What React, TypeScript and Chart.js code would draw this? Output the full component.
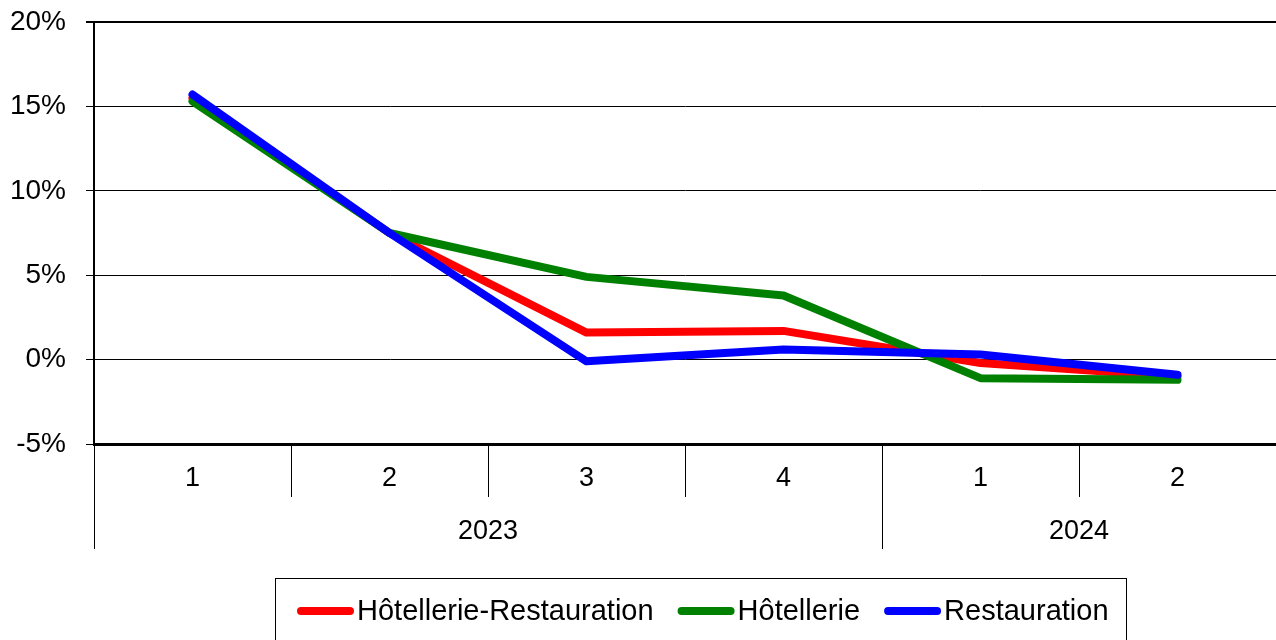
import React, { useEffect, useRef } from "react";
import { Chart, registerables } from "chart.js";

Chart.register(...registerables);

const quarters = ["1", "2", "3", "4", "1", "2"];
const years = ["2023", "2023", "2023", "2023", "2024", "2024"];
const hotelRestauration = [15.5, 7.5, 1.6, 1.7, -0.2, -1.0];
const hotellerie = [15.3, 7.5, 4.9, 3.8, -1.1, -1.2];
const restauration = [15.7, 7.5, -0.1, 0.6, 0.3, -0.9];
const seriesNames = ["Hôtellerie-Restauration", "Hôtellerie", "Restauration"];
const seriesColors = ["#FF0000", "#008000", "#0000FF"];
const yTicks = [-5, 0, 5, 10, 15, 20];

const FONT = "'Liberation Sans', Arial, sans-serif";

const axisPlugin = {
  id: "multiLevelAxisAndLegend",
  afterDraw(chart: any) {
    const ctx = chart.ctx;
    const xs = chart.scales.x;
    const area = chart.chartArea;
    const n = quarters.length;
    const w = xs.getPixelForValue(1) - xs.getPixelForValue(0);
    ctx.save();
    // separators
    ctx.strokeStyle = "#000";
    ctx.lineWidth = 1;
    for (let i = 0; i < n; i++) {
      const bx = Math.round(xs.getPixelForValue(i) - w / 2) + 0.5;
      const long = i === 0 || years[i] !== years[i - 1];
      ctx.beginPath();
      ctx.moveTo(bx, area.bottom);
      ctx.lineTo(bx, long ? 549 : 497);
      ctx.stroke();
    }
    // quarter labels
    ctx.fillStyle = "#000";
    ctx.font = "27px " + FONT;
    ctx.textAlign = "center";
    ctx.textBaseline = "middle";
    for (let i = 0; i < n; i++) {
      ctx.fillText(quarters[i], xs.getPixelForValue(i), 479);
    }
    // year labels
    let start = 0;
    for (let i = 1; i <= n; i++) {
      if (i === n || years[i] !== years[start]) {
        const cx = (xs.getPixelForValue(start) + xs.getPixelForValue(i - 1)) / 2;
        ctx.fillText(years[start], cx, 532);
        start = i;
      }
    }
    // legend
    ctx.lineWidth = 1;
    ctx.strokeRect(275.5, 578.5, 851, 80);
    ctx.font = "29px " + FONT;
    ctx.textAlign = "left";
    let lx = 297;
    const ly = 611;
    chart.data.datasets.forEach((ds: any) => {
      ctx.strokeStyle = ds.borderColor;
      ctx.lineWidth = 8;
      ctx.lineCap = "round";
      ctx.beginPath();
      ctx.moveTo(lx + 4, ly);
      ctx.lineTo(lx + 53, ly);
      ctx.stroke();
      ctx.fillStyle = "#000";
      ctx.fillText(ds.label, lx + 60, ly + 1);
      lx += 60 + ctx.measureText(ds.label).width + 24;
    });
    ctx.restore();
  },
};

export default function App() {
  const ref = useRef<HTMLCanvasElement | null>(null);
  useEffect(() => {
    if (!ref.current) return;
    const seriesData = [hotelRestauration, hotellerie, restauration];
    const chart = new Chart(ref.current, {
      type: "line",
      data: {
        labels: quarters.map((q, i) => years[i] + " T" + q),
        datasets: seriesData.map((d, i) => ({
          label: seriesNames[i],
          data: d,
          borderColor: seriesColors[i],
          backgroundColor: seriesColors[i],
          borderWidth: 8,
          pointRadius: 0,
          borderCapStyle: "round",
          borderJoinStyle: "round",
          tension: 0,
          order: 2 - i,
        })),
      },
      options: {
        responsive: false,
        animation: false,
        layout: { padding: { top: 22, left: 0, right: 0, bottom: 0 } },
        plugins: { legend: { display: false }, tooltip: { enabled: false } },
        scales: {
          x: {
            type: "category",
            offset: true,
            grid: { display: false },
            border: { display: true, color: "#000", width: 3 },
            ticks: { display: false },
            afterFit: (s: any) => {
              s.height = 196;
              s.paddingLeft = 0;
              s.paddingRight = 0;
            },
          },
          y: {
            min: -5,
            max: 20,
            afterBuildTicks: (s: any) => {
              s.ticks = yTicks.map((v) => ({ value: v }));
            },
            grid: {
              color: "#000",
              lineWidth: (c: any) => (c.tick && c.tick.value === 20 ? 2 : 1),
              tickLength: 8,
              drawTicks: true,
            },
            border: { display: true, color: "#000", width: 2 },
            ticks: {
              color: "#000",
              padding: 20,
              font: { family: FONT, size: 28 },
              callback: (v: any) => v + "%",
            },
            afterFit: (s: any) => {
              s.width = 94;
              s.paddingTop = 0;
              s.paddingBottom = 0;
            },
          },
        },
      },
      plugins: [axisPlugin],
    } as any);
    return () => chart.destroy();
  }, []);
  return (
    <div style={{ position: "fixed", left: 0, top: 0, width: 1276, height: 640, background: "#fff" }}>
      <canvas ref={ref} width={1276} height={640} style={{ display: "block" }} />
    </div>
  );
}
